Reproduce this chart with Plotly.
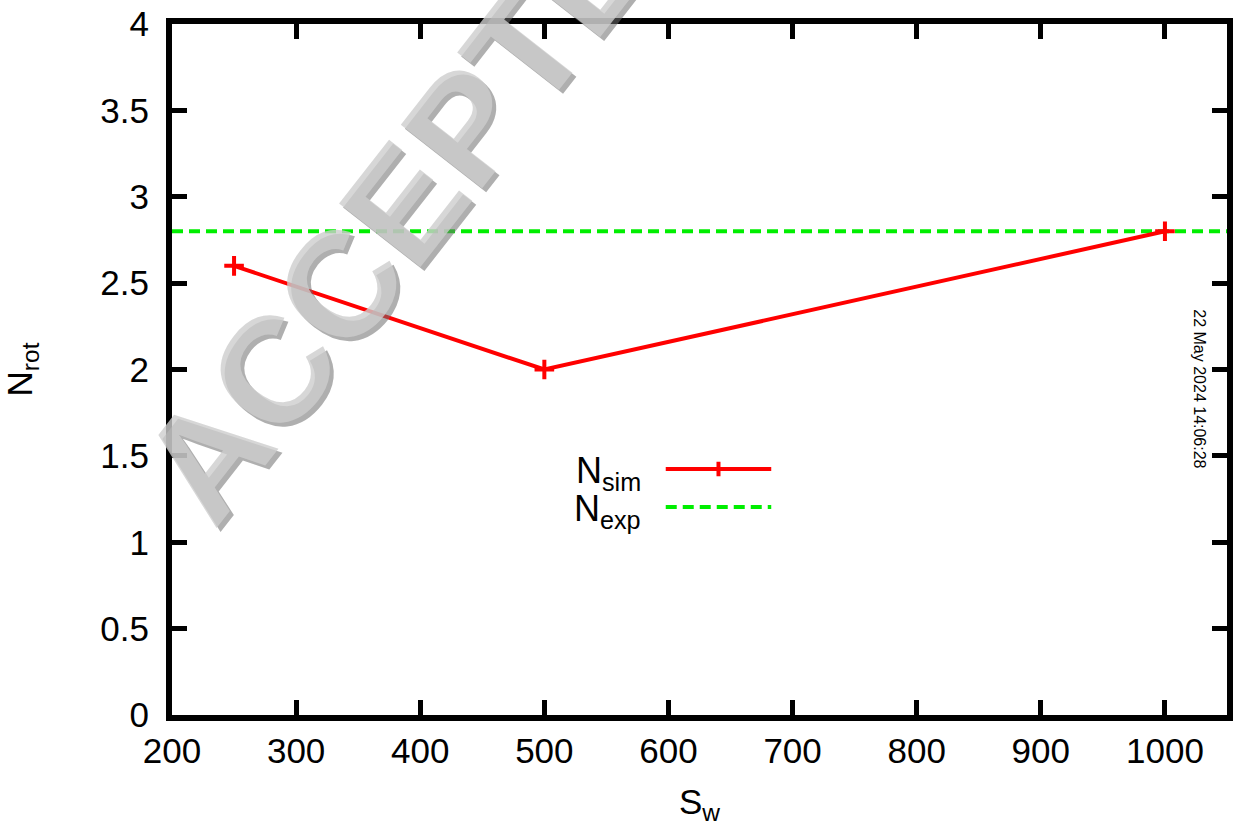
import plotly.graph_objects as go

# ---- data ----
sw_sim = [250, 500, 1000]
n_sim = [2.6, 2.0, 2.8]
sw_exp = [200, 1050]
n_exp = [2.8, 2.8]

x_ticks = [200, 300, 400, 500, 600, 700, 800, 900, 1000]
y_ticks = [0, 0.5, 1, 1.5, 2, 2.5, 3, 3.5, 4]
y_tick_text = ["0", "0.5", "1", "1.5", "2", "2.5", "3", "3.5", "4"]

FONT = "Liberation Sans, Arial, Helvetica, sans-serif"
RED = "#ff0000"
GREEN = "#00ee00"

fig = go.Figure()

fig.add_trace(go.Scatter(
    x=sw_exp, y=n_exp, mode="lines",
    line=dict(color=GREEN, width=4, dash="11px,6px"),
    showlegend=False, hoverinfo="skip",
))
fig.add_trace(go.Scatter(
    x=sw_sim, y=n_sim, mode="lines+markers",
    line=dict(color=RED, width=4),
    marker=dict(symbol="cross-thin", size=14, line=dict(color=RED, width=4), color=RED),
    showlegend=False, cliponaxis=False,
))

axis_common = dict(
    showline=True, linecolor="black", linewidth=6, mirror="allticks",
    ticks="inside", ticklen=15, tickwidth=5, tickcolor="black",
    showgrid=False, zeroline=False,
    tickfont=dict(family=FONT, size=35, color="black"),
)

fig.update_xaxes(
    range=[200, 1050], tickvals=x_ticks, ticktext=[str(v) for v in x_ticks],
    title=dict(text="S<sub>w</sub>", font=dict(family=FONT, size=35, color="black"), standoff=22),
    **axis_common,
)
fig.update_yaxes(
    range=[0, 4], tickvals=y_ticks, ticktext=y_tick_text, ticklabelstandoff=10,
    title=dict(text="N<sub>rot</sub>", font=dict(family=FONT, size=35, color="black"), standoff=62),
    **axis_common,
)

# ---- manual legend (text left, sample right, like gnuplot) ----
leg_x0, leg_x1 = 0.468, 0.568   # paper coords of key sample
leg_y_sim, leg_y_exp = 0.356, 0.301
fig.add_annotation(xref="paper", yref="paper", x=0.446, y=leg_y_sim - 0.006,
                   text="N<sub>sim</sub>", showarrow=False, xanchor="right", yanchor="middle",
                   font=dict(family=FONT, size=36, color="black"))
fig.add_annotation(xref="paper", yref="paper", x=0.446, y=leg_y_exp - 0.006,
                   text="N<sub>exp</sub>", showarrow=False, xanchor="right", yanchor="middle",
                   font=dict(family=FONT, size=36, color="black"))
fig.add_shape(type="line", xref="paper", yref="paper", x0=leg_x0, x1=leg_x1,
              y0=leg_y_sim, y1=leg_y_sim, line=dict(color=RED, width=4))
xm = (leg_x0 + leg_x1) / 2
fig.add_shape(type="line", xref="paper", yref="paper", x0=xm - 0.0066, x1=xm + 0.0066,
              y0=leg_y_sim, y1=leg_y_sim, line=dict(color=RED, width=4))
fig.add_shape(type="line", xref="paper", yref="paper", x0=xm, x1=xm,
              y0=leg_y_sim - 0.0105, y1=leg_y_sim + 0.0105, line=dict(color=RED, width=4))
fig.add_shape(type="line", xref="paper", yref="paper", x0=leg_x0, x1=leg_x1,
              y0=leg_y_exp, y1=leg_y_exp, line=dict(color=GREEN, width=4, dash="11px,6px"))

# ---- date stamp ----
fig.add_annotation(xref="paper", yref="paper", x=0.974, y=0.472,
                   text="22 May 2024 14:06:28", showarrow=False, textangle=90,
                   xanchor="center", yanchor="middle",
                   font=dict(family=FONT, size=16, color="black"))

# ---- watermark ----
wm_x, wm_y, wm_angle, wm_size = 0.243, 0.781, -52, 150
fig.add_annotation(xref="paper", yref="paper", x=wm_x, y=wm_y, xshift=3, yshift=-3,
                   text="<b>ACCEPTED</b>", showarrow=False, textangle=wm_angle,
                   xanchor="center", yanchor="middle",
                   font=dict(family=FONT, size=wm_size, color="rgba(110,110,110,0.55)"))
fig.add_annotation(xref="paper", yref="paper", x=wm_x, y=wm_y, xshift=-1, yshift=1,
                   text="<b>ACCEPTED</b>", showarrow=False, textangle=wm_angle,
                   xanchor="center", yanchor="middle",
                   font=dict(family=FONT, size=wm_size, color="rgba(205,205,205,0.8)"))

fig.update_layout(
    width=1236, height=830,
    margin=dict(l=172, r=3, t=24, b=115),
    paper_bgcolor="white", plot_bgcolor="white",
    showlegend=False,
    font=dict(family=FONT, color="black"),
)

fig.write_html("out.html")
